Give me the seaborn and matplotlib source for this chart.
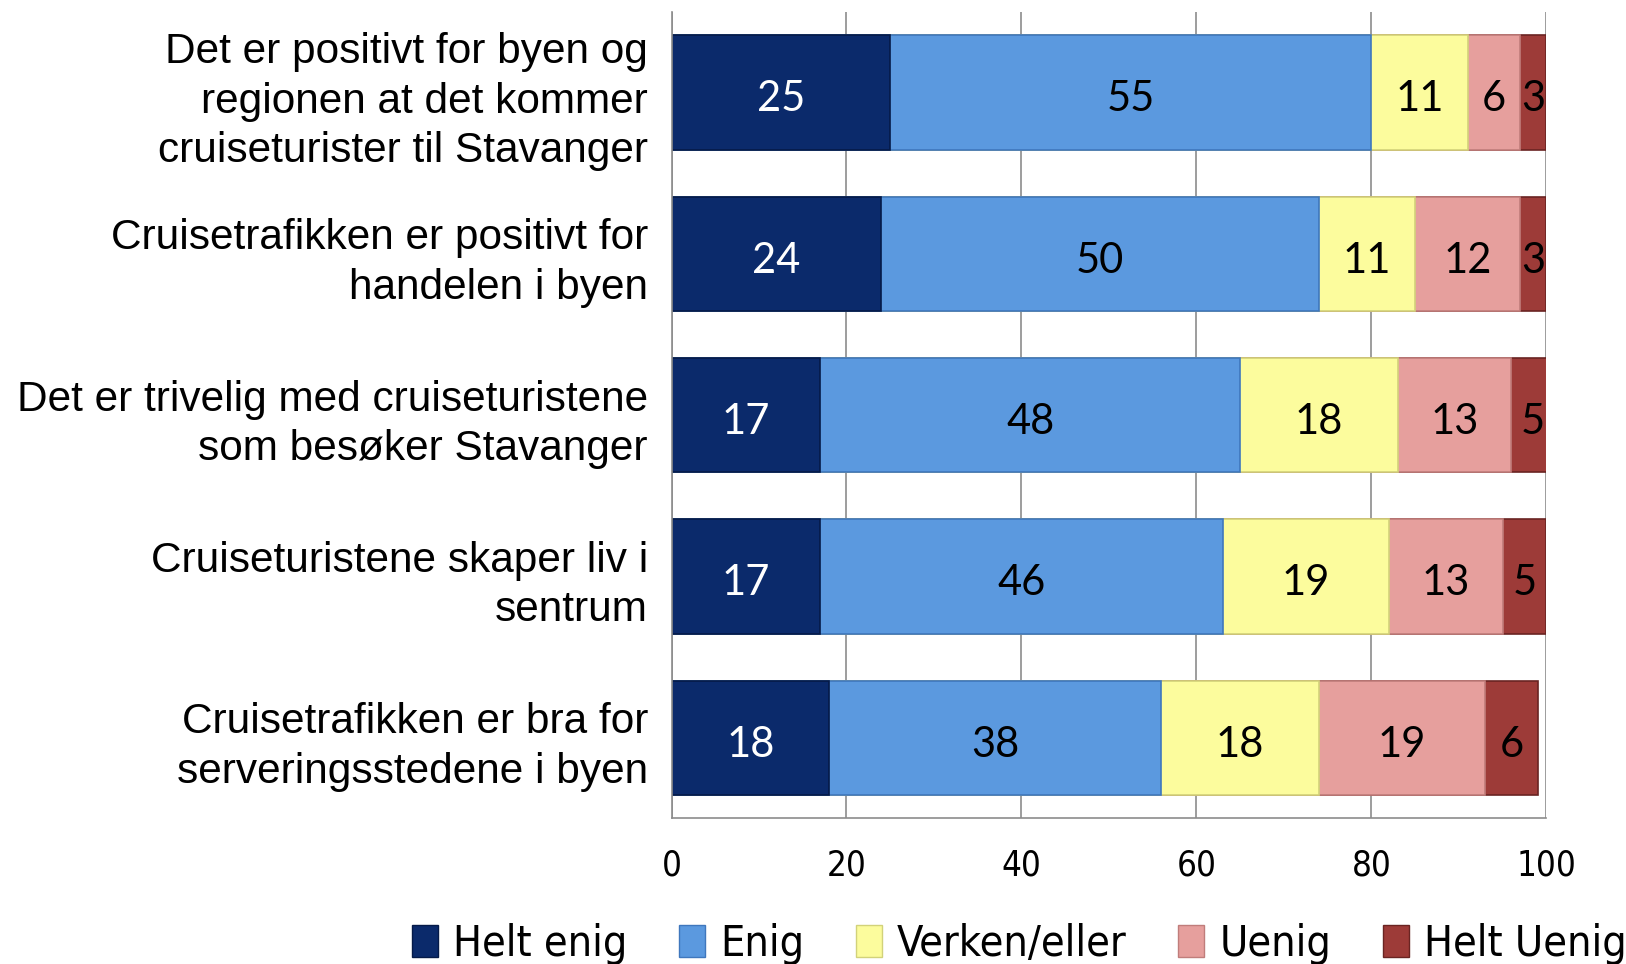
import numpy as np
import pandas as pd
import matplotlib.pyplot as plt
import seaborn as sns
from matplotlib.patches import Patch

# survey statements (top to bottom)
categories = [
    'Det er positivt for byen og\nregionen at det kommer\ncruiseturister til Stavanger',
    'Cruisetrafikken er positivt for\nhandelen i byen',
    'Det er trivelig med cruiseturistene\nsom besøker Stavanger',
    'Cruiseturistene skaper liv i\nsentrum',
    'Cruisetrafikken er bra for\nserveringsstedene i byen',
]
levels = ['Helt enig', 'Enig', 'Verken/eller', 'Uenig', 'Helt Uenig']

helt_enig = [25, 24, 17, 17, 18]
enig = [55, 50, 48, 46, 38]
verken = [11, 11, 18, 19, 18]
uenig = [6, 12, 13, 13, 19]
helt_uenig = [3, 3, 5, 5, 6]

x_ticks = [0, 20, 40, 60, 80, 100]

colors = ['#0b2a6b', '#5b99df', '#fcfc9d', '#e69f9d', '#9d3b38']
edges = ['#051a48', '#3f77bd', '#d2d27a', '#c07d7b', '#6a2422']
label_colors = ['white', 'black', 'black', 'black', 'black']

df = pd.DataFrame({
    'category': categories,
    'Helt enig': helt_enig,
    'Enig': enig,
    'Verken/eller': verken,
    'Uenig': uenig,
    'Helt Uenig': helt_uenig,
})
cum = df[levels].cumsum(axis=1)

sns.set_style('white')
plt.rcParams['font.family'] = ['Liberation Sans', 'DejaVu Sans']
plt.rcParams['text.color'] = 'black'

fig, ax = plt.subplots(figsize=(16.26, 9.64), dpi=100)
fig.subplots_adjust(left=0.413, right=0.951, bottom=0.151, top=0.9876)

# stacked bars: draw cumulative totals from the longest down
for j in reversed(range(len(levels))):
    sns.barplot(x=cum[levels[j]], y=df['category'], orient='h', color=colors[j],
                edgecolor=edges[j], linewidth=1.2, width=0.71, saturation=1, ax=ax)

# value labels in the middle of each segment
for j, lev in enumerate(levels):
    for i in range(len(categories)):
        v = df[lev][i]
        ax.text(cum[lev][i] - v / 2, i + 0.02, str(v), ha='center', va='center_baseline',
                fontsize=30, color=label_colors[j], family=['Lato', 'DejaVu Sans'])

ax.set_xlim(0, 100)
ax.set_xticks(x_ticks)
ax.set_xlabel('')
ax.set_ylabel('')
ax.set_axisbelow(True)
ax.xaxis.grid(True, color='#8c8c8c', linewidth=1.2)
ax.yaxis.grid(False)

for s in ['top', 'right']:
    ax.spines[s].set_visible(False)
for s in ['left', 'bottom']:
    ax.spines[s].set_color('#8c8c8c')
    ax.spines[s].set_linewidth(1.2)

ax.set_yticks(np.arange(-0.5, len(categories), 1), minor=True)
ax.tick_params(axis='y', which='major', length=0, pad=17, labelsize=30.5, labelcolor='black')
ax.tick_params(axis='y', which='minor', length=6, width=1.2, color='#8c8c8c', direction='out')
ax.tick_params(axis='x', which='major', length=8, width=1.2, color='#8c8c8c',
               direction='out', pad=14, labelsize=25, labelcolor='black')
for t in ax.get_yticklabels():
    t.set_linespacing(1.3)
for t in ax.get_xticklabels():
    t.set_family('DejaVu Sans')
    t.set_stretch('condensed')

handles = [Patch(facecolor=colors[j], edgecolor=edges[j], label=levels[j]) for j in range(len(levels))]
fig.legend(handles=handles, loc='center left', bbox_to_anchor=(0.243, 0.021), ncol=5,
           frameon=False, handlelength=0.6, handleheight=0.75, handletextpad=0.35,
           columnspacing=1.2, borderaxespad=0,
           prop={'family': 'DejaVu Sans', 'stretch': 'condensed', 'size': 31})

fig.savefig('out.png', dpi=100)
